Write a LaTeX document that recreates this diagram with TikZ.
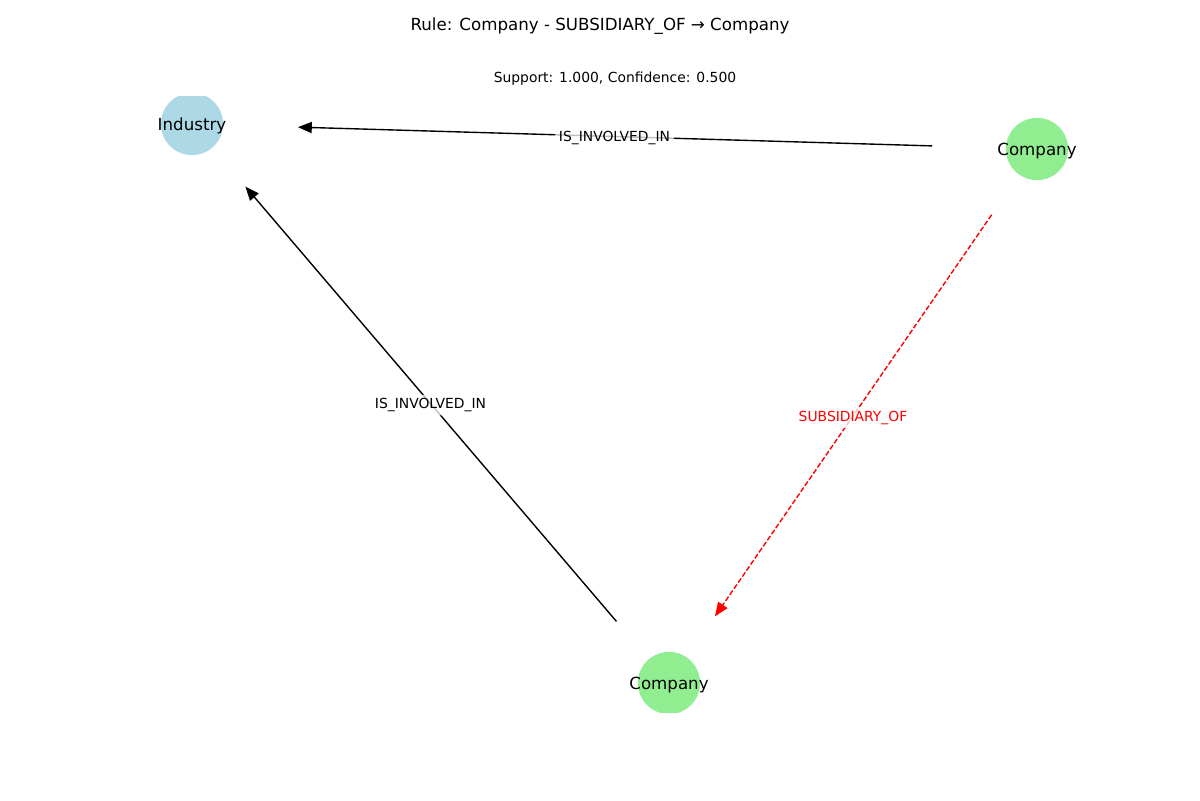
\documentclass[tikz,border=0pt]{standalone}
\usepackage{fontspec}
\setmainfont{DejaVu Sans}
\usetikzlibrary{arrows.meta,calc}
\definecolor{industryblue}{HTML}{ADD8E6}
\definecolor{companygreen}{HTML}{90EE90}
\begin{document}
\begin{tikzpicture}[x=0.72pt,y=-0.72pt,
  disc/.style={circle, minimum size=44.8pt, inner sep=0pt, draw=none},
  nodelabel/.style={font=\fontsize{12}{14}\selectfont, inner sep=0pt, yshift=-1.4pt},
  edgelabel/.style={font=\fontsize{10}{12}\selectfont, fill=white, fill opacity=0.75,
    text opacity=1, rounded corners=2pt, inner sep=2.5pt, yshift=-1.2pt},
  rel/.style={draw=black, line width=1pt, -{Triangle[length=10pt,width=8pt]}},
  ruleedge/.style={draw=red, line width=1pt, dash pattern=on 3.7pt off 1.6pt,
    -{Triangle[length=10pt,width=8pt]}},
  titletext/.style={font=\fontsize{12}{14}\selectfont, inner sep=0pt, yshift=-1.4pt},
  subtext/.style={font=\fontsize{10}{12}\selectfont, inner sep=0pt, yshift=-1.2pt}]
\useasboundingbox (0,0) rectangle (1200,800);

% node discs, clipped to the plotting area
\begin{scope}
  \clip (0,96) rectangle (1200,712);
  \node[disc, fill=industryblue] (ind) at (192,124) {};
  \node[disc, fill=companygreen] (comp1) at (1037,149) {};
  \node[disc, fill=companygreen] (comp2) at (669,683) {};
\end{scope}

% node labels
\node[nodelabel] (ind-text) at (ind.center) {Industry};
\node[nodelabel] (comp1-text) at (comp1.center) {Company};
\node[nodelabel] (comp2-text) at (comp2.center) {Company};

% titles
\node[titletext] (title) at (600,24) {Rule: Company - SUBSIDIARY\_OF → Company};
\node[subtext] (stats) at (615,77) {Support: 1.000, Confidence: 0.500};

% edges
\draw[rel, shorten <=75.6pt, shorten >=76.3pt] (comp1.center) -- (ind.center);
\draw[rel, shorten <=58.3pt, shorten >=59.2pt] (comp2.center) -- (ind.center);
\draw[ruleedge, shorten <=57.5pt, shorten >=58.3pt] (comp1.center) -- (comp2.center);

% edge labels
\node[edgelabel] (l1) at ($(comp1.center)!0.5!(ind.center)$) {IS\_INVOLVED\_IN};
\node[edgelabel] (l2) at ($(comp2.center)!0.5!(ind.center)$) {IS\_INVOLVED\_IN};
\node[edgelabel, text=red] (l3) at ($(comp1.center)!0.5!(comp2.center)$) {SUBSIDIARY\_OF};
\end{tikzpicture}
\end{document}
